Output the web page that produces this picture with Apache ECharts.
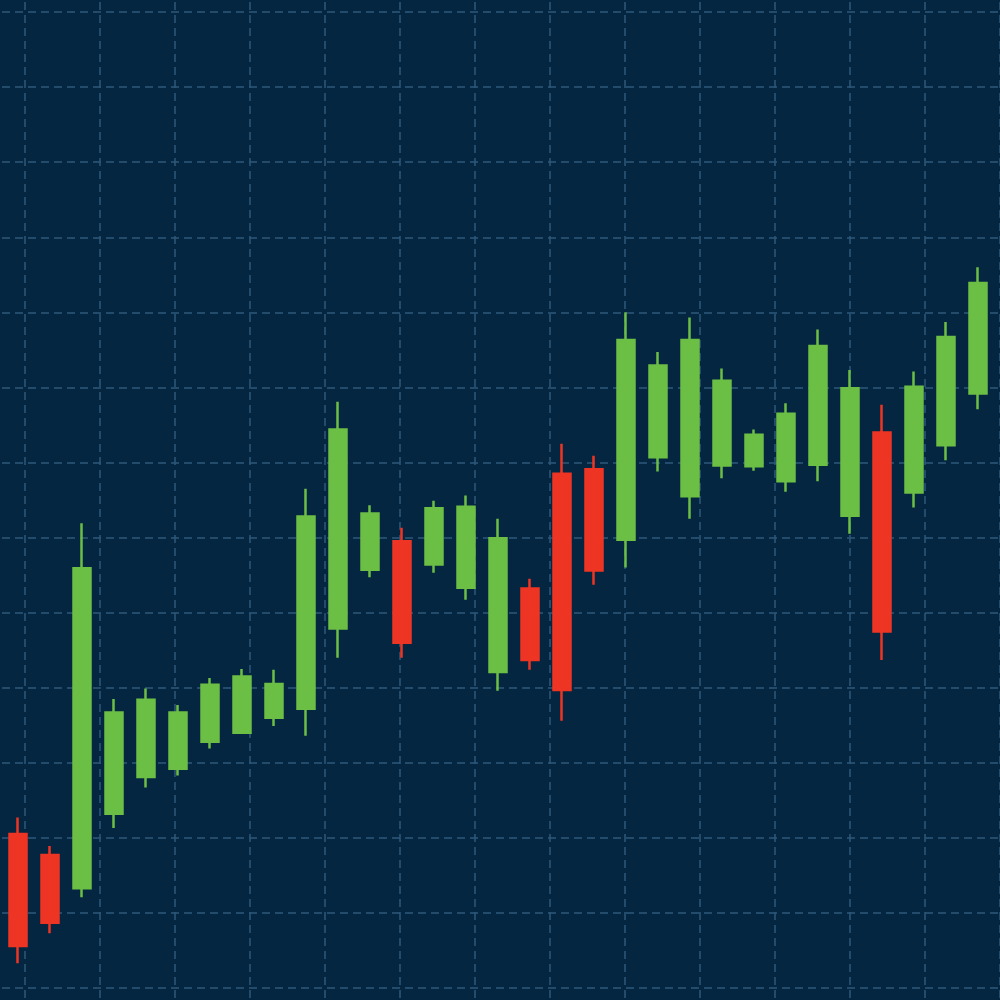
<!DOCTYPE html>
<html>
<head>
<meta charset="utf-8">
<script src="https://cdn.jsdelivr.net/npm/echarts@6/dist/echarts.min.js"></script>
<style>html,body{margin:0;padding:0;background:#042641;}#chart{width:1000px;height:1000px;}</style>
</head>
<body>
<div id="chart"></div>
<script>
// Categories (one per candle)
const categories = ['1','2','3','4','5','6','7','8','9','10','11','12','13','14','15','16','17','18','19','20','21','22','23','24','25','26','27','28','29','30','31'];
// [open, close, low, high]
const opens  = [120.5,117.7,113.3,123.2,128.1,129.2,132.8,134.0,136.0,137.2,147.9,155.7,159.5,156.4,153.3,142.1,153.2,168.5,169.1,159.7,170.7,165.5,169.6,169.5,167.5,169.7,162.9,174.0,166.0,172.3,179.2];
const closes = [105.6,108.7,155.9,136.7,138.4,136.7,140.4,141.5,140.5,162.8,174.4,163.2,146.0,163.9,164.1,159.9,143.7,139.7,155.6,186.3,182.9,186.3,180.9,173.7,176.5,185.5,179.9,147.5,180.1,186.7,193.9];
const lows   = [103.3,107.3,112.1,121.3,126.7,128.3,131.9,133.9,134.9,133.6,144.0,154.7,144.0,155.3,151.7,139.6,142.4,135.6,153.7,156.0,168.8,162.5,167.9,168.9,166.1,167.5,160.5,143.7,164.0,170.3,177.1];
const highs  = [122.7,118.9,161.9,138.5,139.9,137.7,141.3,142.5,142.4,166.5,178.1,164.3,161.3,164.9,165.6,162.5,154.5,172.5,170.9,190.0,184.7,189.3,182.5,174.4,177.9,187.7,182.3,177.7,182.1,188.7,196.0];

const data = categories.map((c, i) => [opens[i], closes[i], lows[i], highs[i]]);

const gridLine = { show: true, lineStyle: { color: '#2e5879', width: 1.5, type: [8, 5] } };
const off = { show: false };

const chart = echarts.init(document.getElementById('chart'), null, { renderer: 'canvas' });
chart.setOption({
  backgroundColor: '#042641',
  animation: false,
  grid: [
    { left: -50, right: -75, top: -63, bottom: -63, outerBoundsMode: 'none', containLabel: false },
    { left: 2, right: 6, top: 12, bottom: 12, outerBoundsMode: 'none', containLabel: false }
  ],
  xAxis: [
    { type: 'value', gridIndex: 0, min: 0, max: 150, interval: 10,
      axisLine: off, axisTick: off, axisLabel: off, splitLine: gridLine },
    { type: 'category', gridIndex: 1, data: categories, boundaryGap: true,
      axisLine: off, axisTick: off, axisLabel: off, splitLine: off }
  ],
  yAxis: [
    { type: 'value', gridIndex: 0, min: 0, max: 150, interval: 10,
      axisLine: off, axisTick: off, axisLabel: off, splitLine: gridLine },
    { type: 'value', gridIndex: 1, min: 100, max: 230, interval: 10,
      axisLine: off, axisTick: off, axisLabel: off, splitLine: off }
  ],
  series: [{
    type: 'candlestick',
    xAxisIndex: 1,
    yAxisIndex: 1,
    data: data,
    barWidth: 17.5,
    itemStyle: {
      color: '#6cbf45',
      color0: '#ee3524',
      borderColor: '#6cbf45',
      borderColor0: '#ee3524',
      borderWidth: 2.5
    }
  }]
});
</script>
</body>
</html>
